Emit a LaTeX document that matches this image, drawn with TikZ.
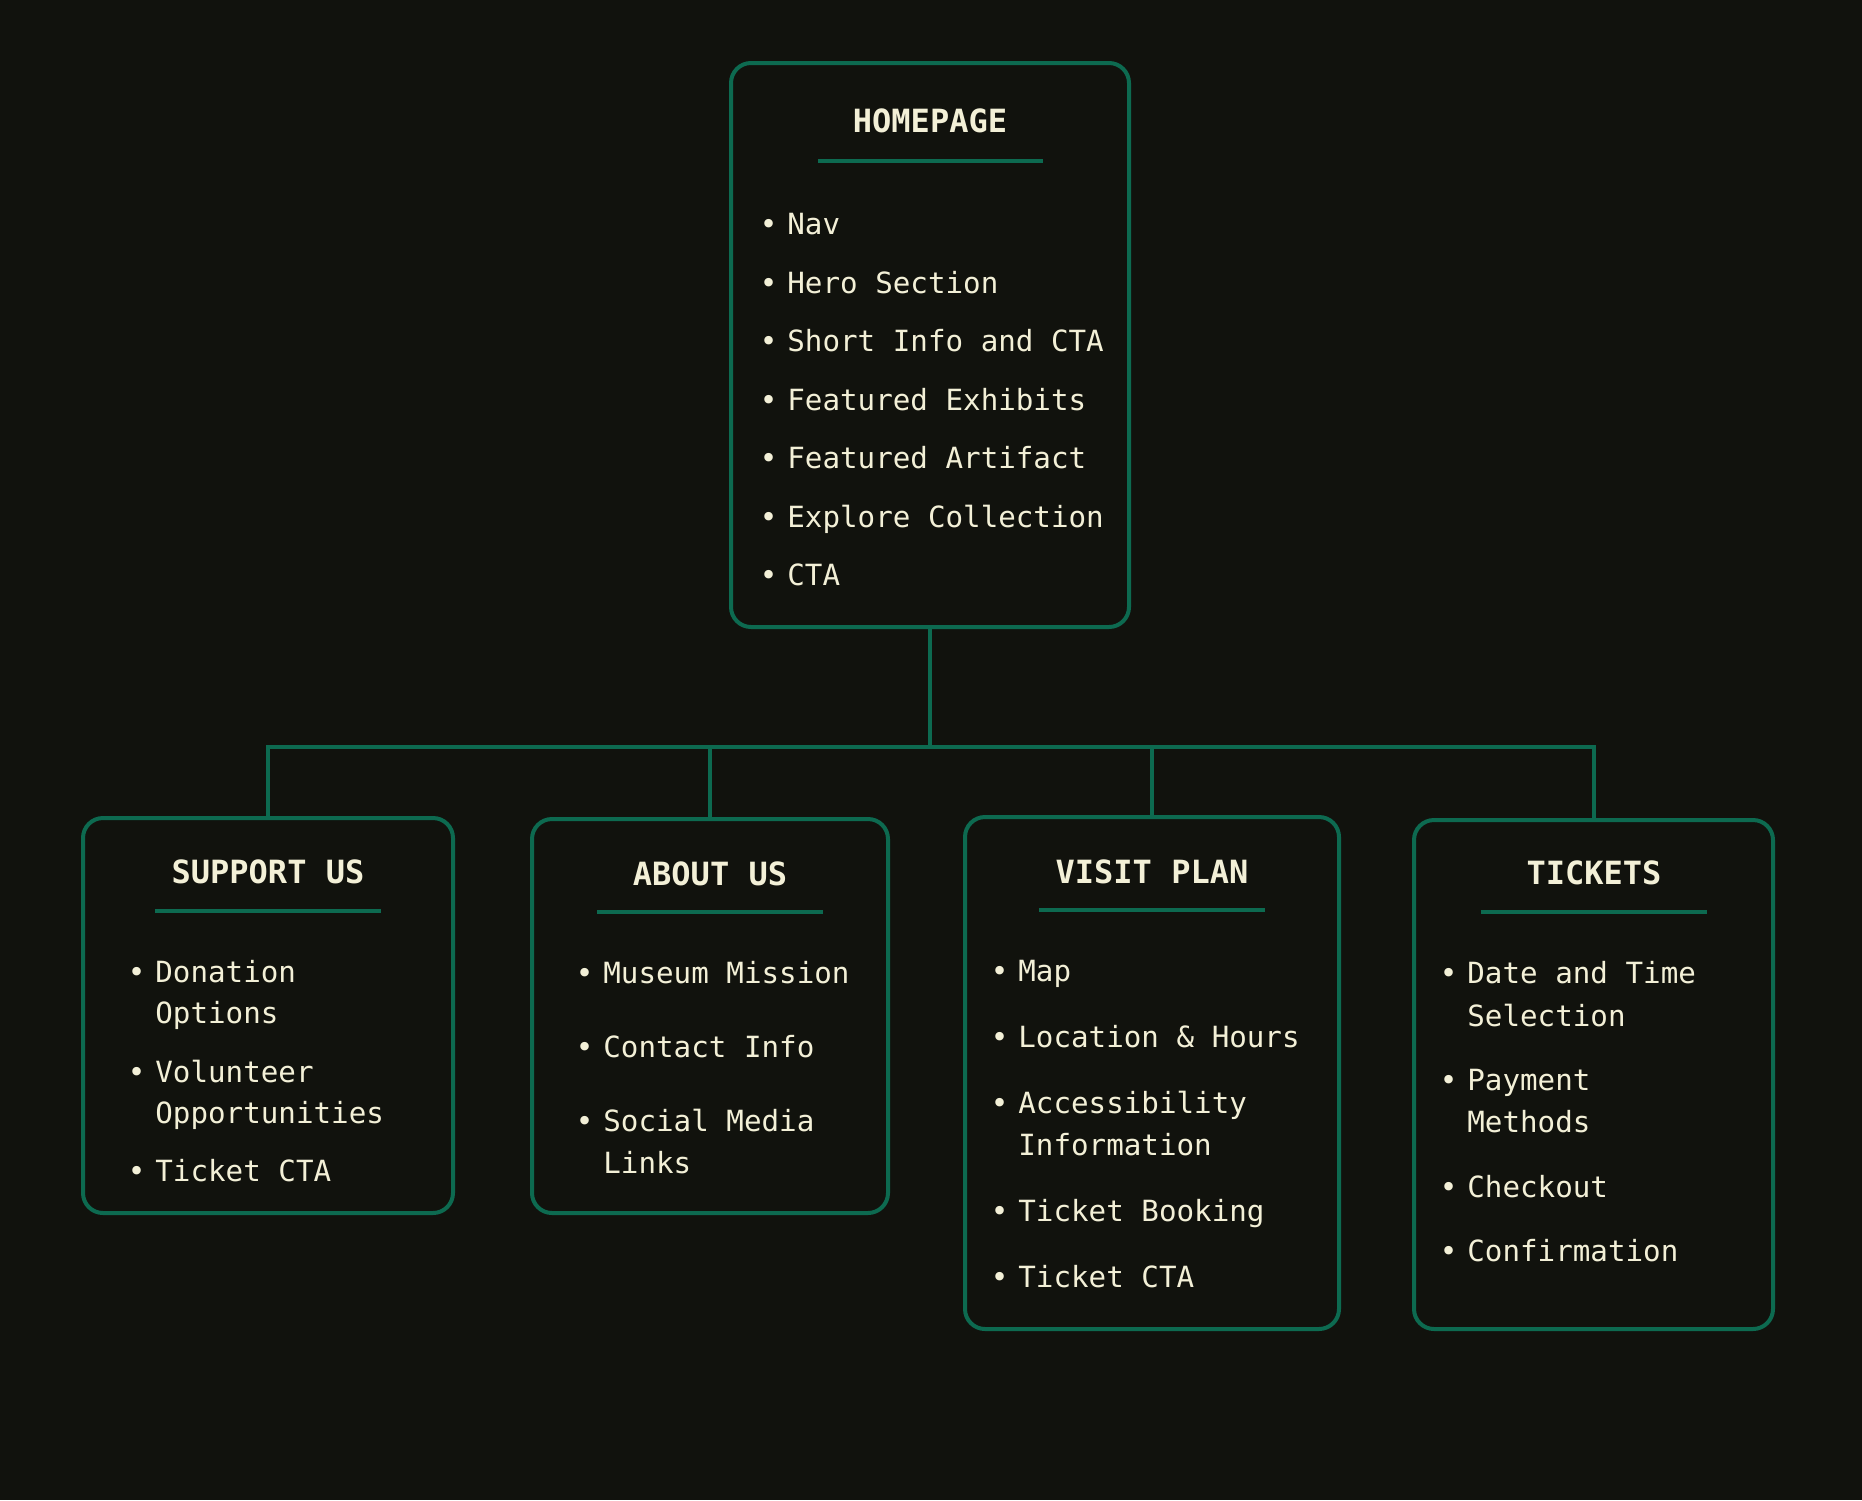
\documentclass[tikz,border=0pt]{standalone}
\usepackage{fontspec}
\setmonofont{DejaVu Sans Mono}
\usepackage{tikz}
\usetikzlibrary{fit}
\definecolor{bgdark}{HTML}{11120D}
\definecolor{pine}{HTML}{0D6A50}
\definecolor{cream}{HTML}{F3F0D7}
\tikzstyle{card} = [draw=pine, line width=2pt, rounded corners=10pt, inner sep=0pt]
\tikzstyle{link} = [draw=pine, line width=2pt]
\tikzstyle{underline} = [draw=pine, line width=2pt]
\tikzstyle{heading} = [text=cream, font=\ttfamily\bfseries\fontsize{16}{19}\selectfont, inner sep=0pt, anchor=base]
\tikzstyle{entry} = [text=cream, font=\ttfamily\fontsize{14.6}{21}\selectfont, inner sep=0pt, anchor=base west]
\newcommand{\bul}{\llap{\textbullet\hspace{5pt}}}

\begin{document}
\begin{tikzpicture}[x=0.5pt, y=-0.5pt]
		\fill[bgdark] (0,0) rectangle (1862,1500);
		\useasboundingbox (0,0) rectangle (1862,1500);
		% boxes
		\node[card, fit={(731,63) (1129,627)}] (home) {};
		\node[card, fit={(83,818) (453,1213)}] (support) {};
		\node[card, fit={(532,819) (888,1213)}] (about) {};
		\node[card, fit={(965,817) (1339,1329)}] (visit) {};
		\node[card, fit={(1414,820) (1773,1329)}] (tickets) {};
		% connectors
		\coordinate (bus) at (930,747);
		\draw[link] (home.south) -- (home.south |- bus);
		\draw[link] (support.north) |- (tickets.north |- bus) -- (tickets.north);
		\draw[link] (about.north) -- (about.north |- bus);
		\draw[link] (visit.north) -- (visit.north |- bus);
		% homepage
		\node[heading] (homeT) at (930,132) {HOMEPAGE};
		\draw[underline] (818,161) -- (1043,161);
		\node[entry] (h1) at (787,234) {\bul Nav};
		\node[entry] (h2) at (787,293) {\bul Hero Section};
		\node[entry] (h3) at (787,351) {\bul Short Info and CTA};
		\node[entry] (h4) at (787,410) {\bul Featured Exhibits};
		\node[entry] (h5) at (787,468) {\bul Featured Artifact};
		\node[entry] (h6) at (787,527) {\bul Explore Collection};
		\node[entry] (h7) at (787,585) {\bul CTA};
		% support us
		\node[heading] (supportT) at (268,883) {SUPPORT US};
		\draw[underline] (155,911) -- (381,911);
		\node[entry] (s1) at (155,982) {\bul Donation};
		\node[entry] (s1b) at (155,1023) {Options};
		\node[entry] (s2) at (155,1082) {\bul Volunteer};
		\node[entry] (s2b) at (155,1123) {Opportunities};
		\node[entry] (s3) at (155,1181) {\bul Ticket CTA};
		% about us
		\node[heading] (aboutT) at (710,885) {ABOUT US};
		\draw[underline] (597,912) -- (823,912);
		\node[entry] (a1) at (603,983) {\bul Museum Mission};
		\node[entry] (a2) at (603,1057) {\bul Contact Info};
		\node[entry] (a3) at (603,1131) {\bul Social Media};
		\node[entry] (a3b) at (603,1173) {Links};
		% visit plan
		\node[heading] (visitT) at (1152,883) {VISIT PLAN};
		\draw[underline] (1039,910) -- (1265,910);
		\node[entry] (v1) at (1018,981) {\bul Map};
		\node[entry] (v2) at (1018,1047) {\bul Location \& Hours};
		\node[entry] (v3) at (1018,1113) {\bul Accessibility};
		\node[entry] (v3b) at (1018,1155) {Information};
		\node[entry] (v4) at (1018,1221) {\bul Ticket Booking};
		\node[entry] (v5) at (1018,1287) {\bul Ticket CTA};
		% tickets
		\node[heading] (ticketsT) at (1594,884) {TICKETS};
		\draw[underline] (1481,912) -- (1707,912);
		\node[entry] (t1) at (1467,983) {\bul Date and Time};
		\node[entry] (t1b) at (1467,1026) {Selection};
		\node[entry] (t2) at (1467,1090) {\bul Payment};
		\node[entry] (t2b) at (1467,1132) {Methods};
		\node[entry] (t3) at (1467,1197) {\bul Checkout};
		\node[entry] (t4) at (1467,1261) {\bul Confirmation};
\end{tikzpicture}
\end{document}
